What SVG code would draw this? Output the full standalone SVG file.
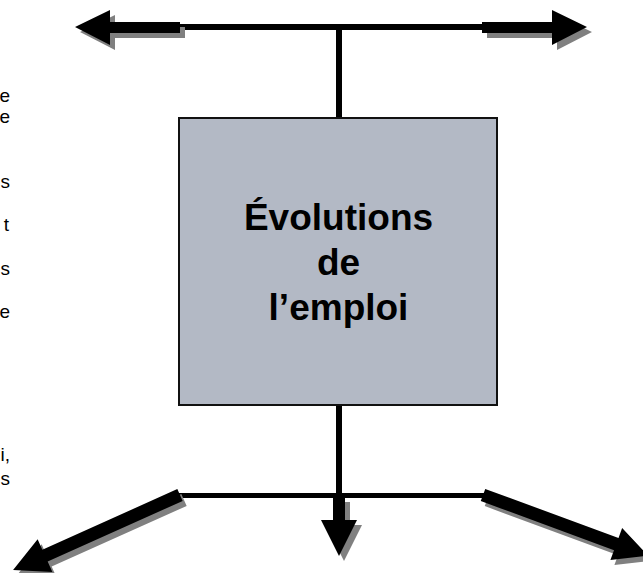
<svg xmlns="http://www.w3.org/2000/svg" width="643" height="573" viewBox="0 0 643 573">
<style>
.ar{fill:#000}
.sh{fill:#808080}
.ln{stroke:#000;fill:none}
.side{font-family:"Liberation Sans",Arial,sans-serif;font-size:19px;fill:#000;text-anchor:end}
.main{font-family:"Liberation Sans",Arial,sans-serif;font-size:37px;font-weight:bold;fill:#000;text-anchor:middle}
</style>
<rect width="643" height="573" fill="#fff"/>
<g id="side-text">
<text class="side" x="10" y="102">e</text>
<text class="side" x="10" y="123">e</text>
<text class="side" x="10" y="188">s</text>
<text class="side" x="9" y="231">t</text>
<text class="side" x="10" y="275">s</text>
<text class="side" x="10" y="318">e</text>
<text class="side" x="10" y="461">i,</text>
<text class="side" x="10" y="485">s</text>
</g>
<g id="connectors">
<line class="ln" x1="178" y1="27" x2="484" y2="27" stroke-width="6"/>
<line class="ln" x1="339" y1="27" x2="339" y2="118" stroke-width="6"/>
<polygon class="sh" points="80,32 115,15 115,27 185,27 185,38 115,38 115,50"/>
<polygon class="ar" points="75,27 110,10 110,22 180,22 180,33 110,33 110,45"/>
<polygon class="sh" points="487,27 557,27 557,15 592,32 557,50 557,38 487,38"/>
<polygon class="ar" points="482,22 552,22 552,10 587,27 552,45 552,33 482,33"/>
<line class="ln" x1="339" y1="405" x2="339" y2="496" stroke-width="6"/>
<line class="ln" x1="176" y1="495.5" x2="485" y2="495.5" stroke-width="5"/>
<polygon class="sh" points="338,502 350,502 350,525 362,525 344,561 326,525 338,525"/>
<polygon class="ar" points="333,497 345,497 345,520 357,520 339,556 321,520 333,520"/>
<g transform="translate(184,500) rotate(155.8)"><polygon class="sh" points="0,-6.5 148,-6.5 148,-18 183,0 148,18 148,6.5 0,6.5"/></g>
<g transform="translate(180,495) rotate(155.8)"><polygon class="ar" points="0,-6.5 148,-6.5 148,-18 183,0 148,18 148,6.5 0,6.5"/></g>
<g transform="translate(487,500) rotate(20.2)"><polygon class="sh" points="0,-6.5 142,-6.5 142,-17 176,0 142,17 142,6.5 0,6.5"/></g>
<g transform="translate(483,495) rotate(20.2)"><polygon class="ar" points="0,-6.5 142,-6.5 142,-17 176,0 142,17 142,6.5 0,6.5"/></g>
</g>
<g id="node-evolutions">
<rect x="179" y="118" width="318" height="287" fill="#b3b9c5" stroke="#111" stroke-width="2"/>
<text class="main" x="338.5" y="230">Évolutions</text>
<text class="main" x="338.5" y="275">de</text>
<text class="main" x="338.5" y="320">l’emploi</text>
</g>
</svg>
